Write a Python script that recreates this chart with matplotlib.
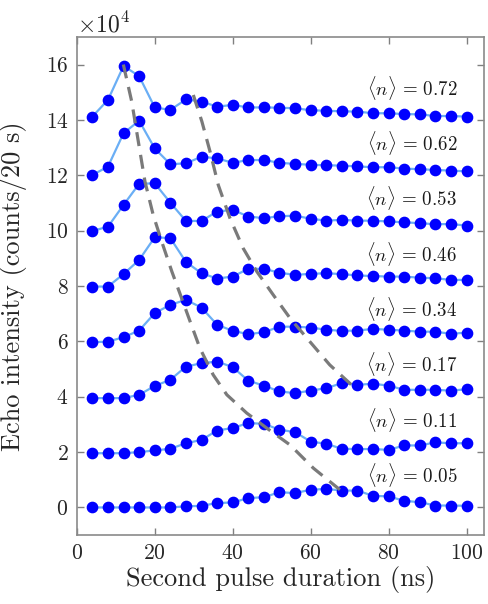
import matplotlib
matplotlib.use("Agg")
import matplotlib.pyplot as plt
import numpy as np

plt.rcParams["font.family"] = "serif"
plt.rcParams["font.serif"] = ["cmr10", "DejaVu Serif"]
plt.rcParams["mathtext.fontset"] = "cm"
plt.rcParams["axes.formatter.use_mathtext"] = True
plt.rcParams["axes.unicode_minus"] = False

# pulse durations (ns)
t = np.arange(4, 101, 4)

# echo counts per 20 s, in units of 1e4, each trace already stacked by +2e4
n_labels = ["0.05", "0.11", "0.17", "0.34", "0.46", "0.53", "0.62", "0.72"]
offsets = [0, 2, 4, 6, 8, 10, 12, 14]

echo_005 = [0.0, 0.0, 0.0, 0.0, 0.0, 0.0, 0.04, 0.06, 0.16, 0.18, 0.34, 0.37, 0.55,
            0.52, 0.64, 0.67, 0.61, 0.61, 0.42, 0.40, 0.24, 0.19, 0.07, 0.07, 0.06]
echo_011 = [1.96, 1.96, 1.96, 2.00, 2.06, 2.12, 2.32, 2.44, 2.78, 2.87, 3.05, 3.02, 2.81,
            2.72, 2.38, 2.30, 2.12, 2.11, 2.11, 2.08, 2.24, 2.24, 2.35, 2.32, 2.32]
echo_017 = [3.95, 3.95, 3.95, 4.07, 4.39, 4.61, 5.09, 5.21, 5.27, 5.07, 4.58, 4.40, 4.19,
            4.13, 4.22, 4.31, 4.49, 4.43, 4.47, 4.40, 4.25, 4.25, 4.25, 4.22, 4.27]
echo_034 = [5.97, 5.99, 6.15, 6.39, 7.02, 7.32, 7.50, 7.22, 6.60, 6.38, 6.26, 6.33, 6.53,
            6.53, 6.50, 6.42, 6.38, 6.39, 6.45, 6.42, 6.39, 6.35, 6.35, 6.27, 6.32]
echo_046 = [7.98, 7.98, 8.43, 8.94, 9.76, 9.73, 8.87, 8.46, 8.27, 8.34, 8.62, 8.62, 8.48,
            8.40, 8.44, 8.46, 8.43, 8.38, 8.36, 8.34, 8.34, 8.30, 8.28, 8.22, 8.22]
echo_053 = [9.99, 10.14, 10.93, 11.69, 11.71, 11.01, 10.35, 10.35, 10.69, 10.75, 10.51, 10.45, 10.52,
            10.54, 10.43, 10.36, 10.39, 10.36, 10.36, 10.33, 10.30, 10.27, 10.23, 10.24, 10.18]
echo_062 = [12.01, 12.31, 13.52, 13.97, 12.97, 12.40, 12.43, 12.67, 12.61, 12.45, 12.55, 12.55, 12.45,
            12.41, 12.38, 12.36, 12.35, 12.32, 12.29, 12.29, 12.24, 12.22, 12.19, 12.17, 12.14]
echo_072 = [14.12, 14.72, 15.95, 15.58, 14.45, 14.36, 14.74, 14.66, 14.48, 14.54, 14.45, 14.45, 14.44,
            14.42, 14.35, 14.33, 14.31, 14.30, 14.24, 14.24, 14.21, 14.20, 14.14, 14.14, 14.12]
traces = [echo_005, echo_011, echo_017, echo_034, echo_046, echo_053, echo_062, echo_072]

# guide curves through the first and second maxima
guide1_t = [11.95, 14.1, 15.8, 17.5, 19.6, 21.8, 24.4, 26.9, 29.1, 31.6, 35.0, 38.5,
            43.6, 48.7, 54.7, 60.7, 67.5]
guide1_y = [16.0, 14.66, 13.21, 11.77, 10.57, 9.60, 8.52, 7.56, 6.71, 5.75, 4.79, 4.07,
            3.41, 2.87, 2.26, 1.42, 0.64]
guide2_t = [29.9, 32.1, 34.2, 36.3, 39.3, 42.7, 46.2, 50.4, 54.7, 59.8, 64.9, 71.4]
guide2_y = [14.9, 13.94, 12.85, 11.65, 10.45, 9.36, 8.52, 7.68, 6.84, 5.99, 5.15, 4.31]

fig = plt.figure(figsize=(4.89, 6.04), dpi=100)
ax = fig.add_axes([0.157, 0.114, 0.833, 0.825])

for ys in traces:
    ax.plot(t, np.array(ys) * 1e4, color="#6aaef5", lw=1.6, marker="o",
            markersize=7.4, markerfacecolor="#0000ff", markeredgecolor="#0000ff", zorder=2)

for gt, gy in [(guide1_t, guide1_y), (guide2_t, guide2_y)]:
    ax.plot(gt, np.array(gy) * 1e4, color="#7a7a7a", lw=2.3, dashes=(4.4, 2.8), zorder=3)

for lab, off in zip(n_labels, offsets):
    ax.text(97.6, (off + 1.17) * 1e4, r"$\langle n\rangle\,=\,%s$" % lab, fontsize=13.6,
            ha="right", va="center", color="#1a1a1a")

ax.set_xlim(0, 104.5)
ax.set_ylim(-1e4, 17e4)
ax.set_xticks([0, 20, 40, 60, 80, 100])
ax.set_yticks(np.arange(0, 17, 2) * 1e4)
ax.ticklabel_format(axis="y", style="sci", scilimits=(4, 4))

ax.tick_params(direction="in", top=True, right=True, length=5, width=1.0,
               color="#808080", labelcolor="#262626", labelsize=15.5, pad=6)
for sp in ax.spines.values():
    sp.set_color("#8a8a8a")
    sp.set_linewidth(1.2)
ax.yaxis.get_offset_text().set_fontsize(17)
ax.yaxis.get_offset_text().set_color("#262626")

ax.set_xlabel("Second pulse duration (ns)", fontsize=19, color="#262626", labelpad=2)
ax.set_ylabel("Echo intensity (counts/20 s)", fontsize=19, color="#262626")
ax.yaxis.set_label_coords(-0.122, 0.5)

fig.savefig("out.png", dpi=100)
